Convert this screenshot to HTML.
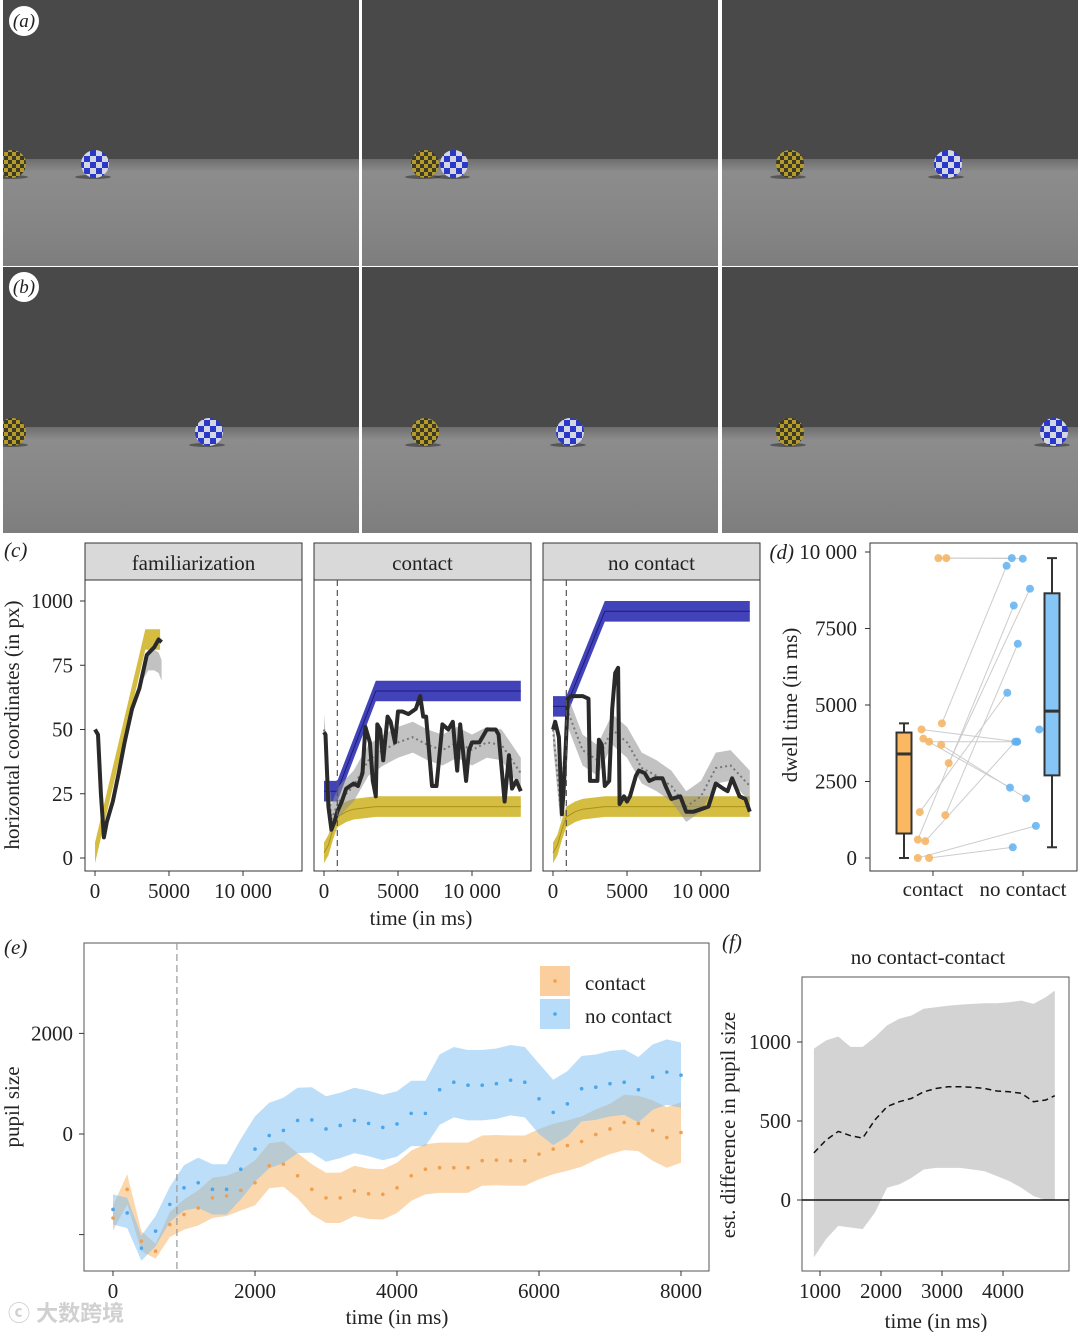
<!DOCTYPE html>
<html><head><meta charset="utf-8">
<style>
html,body{margin:0;padding:0;background:#fff;}
svg{display:block;font-family:"Liberation Serif","Noto Serif CJK SC",serif;}
</style></head>
<body>
<svg id="fig" width="1080" height="1332" viewBox="0 0 1080 1332" xmlns="http://www.w3.org/2000/svg">
<defs>
<linearGradient id="floorA" x1="0" y1="0" x2="0" y2="1">
<stop offset="0" stop-color="#6e6e6e"/><stop offset="0.12" stop-color="#8c8c8c"/><stop offset="0.5" stop-color="#878787"/><stop offset="1" stop-color="#7e7e7e"/>
</linearGradient>
<pattern id="chkY" width="8" height="8" patternUnits="userSpaceOnUse">
<rect width="8" height="8" fill="#b59c2a"/><rect width="4" height="4" fill="#3d3a28"/><rect x="4" y="4" width="4" height="4" fill="#3d3a28"/>
</pattern>
<pattern id="chkB" width="12" height="12" patternUnits="userSpaceOnUse">
<rect width="12" height="12" fill="#d4d6e4"/><rect width="6" height="6" fill="#2a38c8"/><rect x="6" y="6" width="6" height="6" fill="#2a38c8"/>
</pattern>
<clipPath id="clipCol1"><rect x="3" y="0" width="356" height="533"/></clipPath>
<clipPath id="clipCol3"><rect x="722" y="0" width="356" height="533"/></clipPath>
</defs>
<g id="photos"></g>
<g id="panelC"></g>
<g id="panelD"></g>
<g id="panelE"></g>
<g id="panelF"></g>
<text x="8" y="1321" font-size="22" font-weight="bold" fill="#d0d0d0" font-family="Liberation Sans, Noto Sans CJK SC, sans-serif">ⓒ 大数跨境</text>
</svg>
<script>
// ---------- panel c data ----------
const famYellowT=[0,3400,4400];
const famYellowV=[2,85,85];
const famBlackT=[0,200,400,600,800,1200,1600,2000,2500,3000,3500,4000,4300,4500];
const famBlackV=[50,48,25,8,14,22,33,45,58,66,79,82,85,84];
const famGrayT=[3300,3600,4000,4300,4500];
const famGrayV=[74,77,77,76,73];
const bandYellowT=[0,300,600,900,1500,2000,3500,13300];
const bandYellowV=[2,5,11,16,18,19,20,20];
const contactBlueT=[0,900,3500,13300];
const contactBlueV=[26,26,65,65];
const nocBlueT=[0,900,3500,13300];
const nocBlueV=[59,59,96,96];
const contactBlackT=[0,100,300,500,700,900,1200,1500,2000,2300,2600,2800,3100,3300,3500,3600,3800,4000,4300,4500,4800,5000,5300,5700,6200,6500,6700,6900,7300,7600,8000,8400,8700,9000,9200,9600,9800,10000,10500,11000,11600,11800,12200,12500,12700,13000,13300];
const contactBlackV=[49,48,20,11,14,18,22,27,29,28,33,51,45,30,24,52,50,38,55,53,45,57,57,56,58,63,55,55,28,28,52,50,53,34,52,30,42,45,45,50,50,48,22,40,27,30,26];
const contactGrayT=[0,500,1000,2000,3000,4000,5000,6000,7000,8000,9000,10000,11000,12000,13300];
const contactGrayV=[50,15,22,28,38,42,45,47,44,42,45,42,45,44,33];
const nocBlackT=[0,150,400,600,700,800,1000,1200,2000,2400,2500,3000,3100,3300,3500,3800,4000,4200,4400,4500,4800,5000,5200,5600,5800,6200,6500,6900,7400,7600,8000,8600,9000,9500,10000,10500,11000,11500,11800,12100,12600,13000,13300];
const nocBlackV=[50,53,47,17,25,35,62,63,63,62,30,30,46,44,28,30,58,72,74,21,24,22,24,32,34,33,30,31,31,28,23,24,18,18,19,20,29,27,26,31,24,23,18];
const nocGrayT=[0,500,1000,2000,3000,4000,5000,6000,7000,8000,9000,10000,11000,12000,13300];
const nocGrayV=[50,20,57,42,38,50,45,35,32,28,20,24,35,36,28];
const cYTicks=[0,25,50,75,100];
const cYLabels=["0","25","50","75","1000"];
const cXTicks=[0,5000,10000];
const cXLabels=["0","5000","10 000"];
const facetTitles=["familiarization","contact","no contact"];

// ---------- panel d data ----------
const contactDwell=[9800,9800,4400,4200,3900,3800,3700,3100,1500,1400,600,550,0,0];
const noContactDwell=[9800,9780,9550,3800,2300,3800,1950,8800,5400,7000,8250,3800,1050,350,4200];
const contactJitter=[5.4,13.3,8.9,-11.5,-9.7,-3.9,8.2,15.7,-13.2,12.3,-15.2,-7.7,-15.2,-3.9];
const noContactJitter=[-11.2,-0.2,-16.4,-6,-13,-5.8,3.2,7,-15.7,-5.2,-9.2,-7.8,12.9,-10.2,16.3];
const contactBox={min:0,q1:800,med:3400,q3:4100,max:4400};
const noContactBox={min:350,q1:2700,med:4800,q3:8650,max:9800};
const dYTicks=[0,2500,5000,7500,10000];
const dYLabels=["0","2500","5000","7500","(d) 10 000"];

// ---------- panel e data ----------
const eTime=[0,200,400,600,800,1000,1200,1400,1600,1800,2000,2200,2400,2600,2800,3000,3200,3400,3600,3800,4000,4200,4400,4600,4800,5000,5200,5400,5600,5800,6000,6200,6400,6600,6800,7000,7200,7400,7600,7800,8000];
const eContact=[-1670,-1100,-2130,-2330,-1800,-1600,-1470,-1270,-1230,-1120,-970,-630,-600,-830,-1100,-1270,-1270,-1130,-1190,-1200,-1070,-830,-700,-670,-670,-670,-530,-520,-530,-530,-400,-300,-230,-150,-10,100,230,210,70,-70,30];
const eContactHalf=[250,300,200,150,250,300,350,400,400,400,450,450,450,450,500,500,500,500,500,500,500,500,500,500,500,500,500,500,500,500,500,500,500,500,500,500,550,550,600,600,600];
const eNoContact=[-1500,-1570,-2270,-1930,-1400,-1070,-970,-1100,-1100,-700,-300,-30,70,270,280,100,170,270,210,130,200,410,410,880,1030,970,970,1000,1070,1030,700,430,600,900,930,1000,1030,880,1130,1230,1170];
const eNoContactHalf=[300,300,250,300,350,450,500,500,500,600,650,650,650,650,650,650,650,650,650,650,650,650,650,700,700,700,700,700,700,700,700,650,650,650,650,650,650,650,650,650,650];
const eXTicks=[0,2000,4000,6000,8000];
const eYTicks=[-2000,0,2000];
const eYLabels=["","0","2000"];

// ---------- panel f data ----------
const fTime=[900,1100,1300,1500,1700,1900,2100,2300,2500,2700,2900,3100,3300,3500,3700,3900,4100,4300,4500,4700,4850];
const fMean=[298,380,434,407,392,507,591,622,643,685,706,717,717,713,706,690,685,675,622,633,660];
const fUpper=[958,1010,1035,969,969,1031,1105,1147,1168,1210,1220,1230,1237,1241,1245,1245,1252,1262,1241,1283,1325];
const fLower=[-363,-247,-164,-174,-184,-80,78,99,140,193,203,203,203,193,182,151,120,78,25,0,0];
const fXTicks=[1000,2000,3000,4000];
const fYTicks=[0,500,1000];

const FS=21;
const NS='http://www.w3.org/2000/svg';
function mk(tag,attrs,parent){const e=document.createElementNS(NS,tag);for(const k in attrs)e.setAttribute(k,attrs[k]);parent.appendChild(e);return e;}
function txt(parent,x,y,s,size,anchor,extra){const t=mk('text',Object.assign({x:x,y:y,'font-size':size,'text-anchor':anchor||'start',fill:'#222'},extra||{}),parent);t.textContent=s;return t;}
function linePath(ts,vs,fx,fy){return ts.map((t,i)=>(i?'L':'M')+fx(t).toFixed(1)+','+fy(vs[i]).toFixed(1)).join(' ');}
function bandPath(ts,lo,hi,fx,fy){let d=ts.map((t,i)=>(i?'L':'M')+fx(t).toFixed(1)+','+fy(hi[i]).toFixed(1)).join(' ');for(let i=ts.length-1;i>=0;i--)d+='L'+fx(ts[i]).toFixed(1)+','+fy(lo[i]).toFixed(1);return d+'Z';}

// ---------- photos ----------
const photos=document.getElementById('photos');
const cols=[3,362,722];
const rows=[{y:0,h:266,hz:159,by:164},{y:267,h:266,hz:427,by:432}];
const balls=[[[12,95],[425,454],[790,948]],[[12,209],[425,570],[790,1054]]];
rows.forEach((r,ri)=>{cols.forEach((cx,ci)=>{
  const g=mk('g',{},photos);
  
  
  mk('rect',{x:cx,y:r.y,width:356,height:r.h,fill:'#494949'},g);
  mk('rect',{x:cx,y:r.hz,width:356,height:r.y+r.h-r.hz,fill:'url(#floorA)'},g);
  const clip=ci===0?'url(#clipCol1)':(ci===2?'url(#clipCol3)':'');
  const bg=mk('g',clip?{'clip-path':clip}:{},g);
  const [yx,bx]=balls[ri][ci];
  mk('ellipse',{cx:yx-2,cy:r.by+13,rx:18,ry:2,fill:'#333',opacity:0.6},bg);
  const yb=mk('circle',{cx:yx,cy:r.by,r:14,fill:'url(#chkY)'},bg);
  
  
  mk('ellipse',{cx:bx-2,cy:r.by+13,rx:18,ry:2,fill:'#333',opacity:0.6},bg);
  const bb=mk('circle',{cx:bx,cy:r.by,r:14,fill:'url(#chkB)'},bg);
  
  
});});
[['(a)',24,21],['(b)',24,287]].forEach(a=>{
  const c=mk('circle',{cx:a[1],cy:a[2],r:15,fill:'#fff'},photos);
  
  
  txt(photos,a[1],a[2]+6,a[0],19,'middle',{'font-style':'italic'});
});

// ---------- panel c ----------
const pc=document.getElementById('panelC');
const cY=v=>858-v*2.57;
const facetLefts=[85,314,543];
txt(pc,4,557,'(c)',FS,'start',{'font-style':'italic'});
facetLefts.forEach((L,fi)=>{
  const fx=t=>L+10+t*0.0148;
  const g=mk('g',{},pc);
  
  
  const strip=mk('rect',{x:L,y:543,width:217,height:37,fill:'#d9d9d9',stroke:'#333','stroke-width':1},g);
  
  
  txt(g,L+108.5,570,facetTitles[fi],FS,'middle');
  mk('rect',{x:L,y:580,width:217,height:291,fill:'#fff',stroke:'#333','stroke-width':1},g);
  if(fi===0){
    const yb=mk('path',{d:bandPath(famYellowT,famYellowV.map(v=>v-4),famYellowV.map(v=>v+4),fx,cY),fill:'#cdb21e',opacity:0.85},g);
    
    
    mk('path',{d:bandPath(famGrayT,famGrayV.map(v=>v-4),famGrayV.map(v=>v+4),fx,cY),fill:'#999',opacity:0.6},g);
    const bl=mk('path',{d:linePath(famBlackT,famBlackV,fx,cY),fill:'none',stroke:'#2a2a2a','stroke-width':4,'stroke-linejoin':'round'},g);
    
    
  } else {
    const bt=fi===1?contactBlueT:nocBlueT, bv=fi===1?contactBlueV:nocBlueV;
    const blue=mk('path',{d:bandPath(bt,bv.map(v=>v-4),bv.map(v=>v+4),fx,cY),fill:'#2e2fb0',opacity:0.9},g);
    
    
    mk('path',{d:linePath(bt,bv,fx,cY),fill:'none',stroke:'#1a1a80','stroke-width':1},g);
    const yb=mk('path',{d:bandPath(bandYellowT,bandYellowV.map(v=>v-4),bandYellowV.map(v=>v+4),fx,cY),fill:'#cdb21e',opacity:0.85},g);
    
    
    mk('path',{d:linePath(bandYellowT,bandYellowV,fx,cY),fill:'none',stroke:'#a8921a','stroke-width':1},g);
    const gt=fi===1?contactGrayT:nocGrayT, gv=fi===1?contactGrayV:nocGrayV;
    const gb=mk('path',{d:bandPath(gt,gv.map(v=>v-6),gv.map(v=>v+6),fx,cY),fill:'#8f8f8f',opacity:0.55},g);
    
    
    mk('path',{d:linePath(gt,gv,fx,cY),fill:'none',stroke:'#777','stroke-width':2,'stroke-dasharray':'2 3'},g);
    const kt=fi===1?contactBlackT:nocBlackT, kv=fi===1?contactBlackV:nocBlackV;
    const bl=mk('path',{d:linePath(kt,kv,fx,cY),fill:'none',stroke:'#2a2a2a','stroke-width':4,'stroke-linejoin':'round'},g);
    
    
    const vl=mk('line',{x1:fx(900),x2:fx(900),y1:580,y2:871,stroke:'#555','stroke-width':1.2,'stroke-dasharray':'6 4'},g);
    
    
  }
  cXTicks.forEach((t,i)=>{
    mk('line',{x1:fx(t),x2:fx(t),y1:871,y2:876,stroke:'#333'},g);
    txt(g,fx(t),898,cXLabels[i],FS,'middle');
  });
});
cYTicks.forEach((v,i)=>{
  mk('line',{x1:80,x2:85,y1:cY(v),y2:cY(v),stroke:'#333'},pc);
  txt(pc,73,cY(v)+7,cYLabels[i],FS,'end');
});
txt(pc,19,725,'horizontal coordinates (in px)',FS,'middle',{transform:'rotate(-90 19 725)'});
txt(pc,421,925,'time (in ms)',FS,'middle');

// ---------- panel d ----------
const pd=document.getElementById('panelD');
const dY=v=>858-v*0.0306;
const catX={contact:933,nc:1023};
mk('rect',{x:870,y:543,width:207,height:328,fill:'#fff',stroke:'#333'},pd);
dYTicks.forEach((v,i)=>{
  mk('line',{x1:865,x2:870,y1:dY(v),y2:dY(v),stroke:'#333'},pd);
  const t=txt(pd,857,dY(v)+7,dYLabels[i],FS,'end');
  if(i===4){t.textContent='';const a=mk('tspan',{'font-style':'italic'},t);a.textContent='(d) ';const b=mk('tspan',{},t);b.textContent='10 000';}
});
txt(pd,797,705,'dwell time (in ms)',FS,'middle',{transform:'rotate(-90 797 705)'});
contactDwell.forEach((v,i)=>{
  const l=mk('line',{x1:catX.contact+contactJitter[i],y1:dY(v),x2:catX.nc+noContactJitter[i],y2:dY(noContactDwell[i]),stroke:'#ccc','stroke-width':1},pd);
  
  
});
function box(b,cx,fill,name){
  const g=mk('g',{},pd);
  
  
  mk('line',{x1:cx,x2:cx,y1:dY(b.min),y2:dY(b.max),stroke:'#333','stroke-width':2},g);
  mk('line',{x1:cx-5,x2:cx+5,y1:dY(b.min),y2:dY(b.min),stroke:'#333','stroke-width':2},g);
  mk('line',{x1:cx-5,x2:cx+5,y1:dY(b.max),y2:dY(b.max),stroke:'#333','stroke-width':2},g);
  mk('rect',{x:cx-7.5,y:dY(b.q3),width:15,height:dY(b.q1)-dY(b.q3),fill:fill,stroke:'#333','stroke-width':2},g);
  mk('line',{x1:cx-7.5,x2:cx+7.5,y1:dY(b.med),y2:dY(b.med),stroke:'#333','stroke-width':3},g);
}
box(contactBox,904,'#fbb861','box-contact');
box(noContactBox,1052,'#86c6f6','box-no-contact');
contactDwell.forEach((v,i)=>{
  const c=mk('circle',{cx:catX.contact+contactJitter[i],cy:dY(v),r:4,fill:'#f5b25e',opacity:0.85},pd);
  
  
});
noContactDwell.forEach((v,i)=>{
  const c=mk('circle',{cx:catX.nc+noContactJitter[i],cy:dY(v),r:4,fill:'#5fb0f0',opacity:0.85},pd);
  
  
});
[['contact',catX.contact],['no contact',catX.nc]].forEach(c=>{
  mk('line',{x1:c[1],x2:c[1],y1:871,y2:876,stroke:'#333'},pd);
  txt(pd,c[1],896,c[0],FS,'middle');
});

// ---------- panel e ----------
const pe=document.getElementById('panelE');
const eX=t=>113+t*0.071;
const eY=v=>1134-v*0.0503;
txt(pe,4,954,'(e)',FS,'start',{'font-style':'italic'});
mk('rect',{x:84,y:943,width:625,height:328,fill:'#fff',stroke:'#555'},pe);
const ob=mk('path',{d:bandPath(eTime,eContact.map((v,i)=>v-eContactHalf[i]),eContact.map((v,i)=>v+eContactHalf[i]),eX,eY),fill:'#f7b66c',opacity:0.55},pe);


const bbn=mk('path',{d:bandPath(eTime,eNoContact.map((v,i)=>v-eNoContactHalf[i]),eNoContact.map((v,i)=>v+eNoContactHalf[i]),eX,eY),fill:'#79bdf3',opacity:0.5},pe);


eTime.forEach((t,i)=>{
  const a=mk('circle',{cx:eX(t),cy:eY(eContact[i]),r:1.8,fill:'#ee9f50'},pe);
  
  
  const b=mk('circle',{cx:eX(t),cy:eY(eNoContact[i]),r:1.8,fill:'#4aa6ec'},pe);
  
  
});
const ev=mk('line',{x1:eX(900),x2:eX(900),y1:943,y2:1271,stroke:'#999','stroke-width':1.2,'stroke-dasharray':'7 4'},pe);


eXTicks.forEach(t=>{mk('line',{x1:eX(t),x2:eX(t),y1:1271,y2:1276,stroke:'#333'},pe);txt(pe,eX(t),1298,String(t),FS,'middle');});
eYTicks.forEach((v,i)=>{mk('line',{x1:79,x2:84,y1:eY(v),y2:eY(v),stroke:'#333'},pe);txt(pe,73,eY(v)+7,eYLabels[i],FS,'end');});
txt(pe,19,1107,'pupil size',FS,'middle',{transform:'rotate(-90 19 1107)'});
txt(pe,397,1324,'time (in ms)',FS,'middle');
const lg=mk('g',{},pe);


mk('rect',{x:540,y:966,width:30,height:30,fill:'#fbcf9d'},lg);
mk('circle',{cx:555,cy:981,r:1.8,fill:'#ee9f50'},lg);
txt(lg,585,990,'contact',FS,'start');
mk('rect',{x:540,y:999,width:30,height:30,fill:'#b6dcf9'},lg);
mk('circle',{cx:555,cy:1014,r:1.8,fill:'#4aa6ec'},lg);
txt(lg,585,1023,'no contact',FS,'start');

// ---------- panel f ----------
const pf=document.getElementById('panelF');
const fX=t=>820+(t-1000)*0.061;
const fY=v=>1200-v*0.158;
txt(pf,722,949,'(f)',FS,'start',{'font-style':'italic'});
txt(pf,928,964,'no contact-contact',FS,'middle');
mk('rect',{x:802,y:977,width:267,height:294,fill:'#fff',stroke:'#555'},pf);
const fb=mk('path',{d:bandPath(fTime,fLower,fUpper,fX,fY),fill:'#d3d3d3'},pf);


const fm=mk('path',{d:linePath(fTime,fMean,fX,fY),fill:'none',stroke:'#111','stroke-width':1.5,'stroke-dasharray':'6 4'},pf);


const z=mk('line',{x1:802,x2:1069,y1:fY(0),y2:fY(0),stroke:'#111','stroke-width':1.5},pf);


fXTicks.forEach(t=>{mk('line',{x1:fX(t),x2:fX(t),y1:1271,y2:1276,stroke:'#333'},pf);txt(pf,fX(t),1298,String(t),FS,'middle');});
fYTicks.forEach(v=>{mk('line',{x1:797,x2:802,y1:fY(v),y2:fY(v),stroke:'#333'},pf);txt(pf,791,fY(v)+7,String(v),FS,'end');});
txt(pf,735,1125,'est. difference in pupil size',FS,'middle',{transform:'rotate(-90 735 1125)'});
txt(pf,936,1328,'time (in ms)',FS,'middle');
</script>
</body></html>
